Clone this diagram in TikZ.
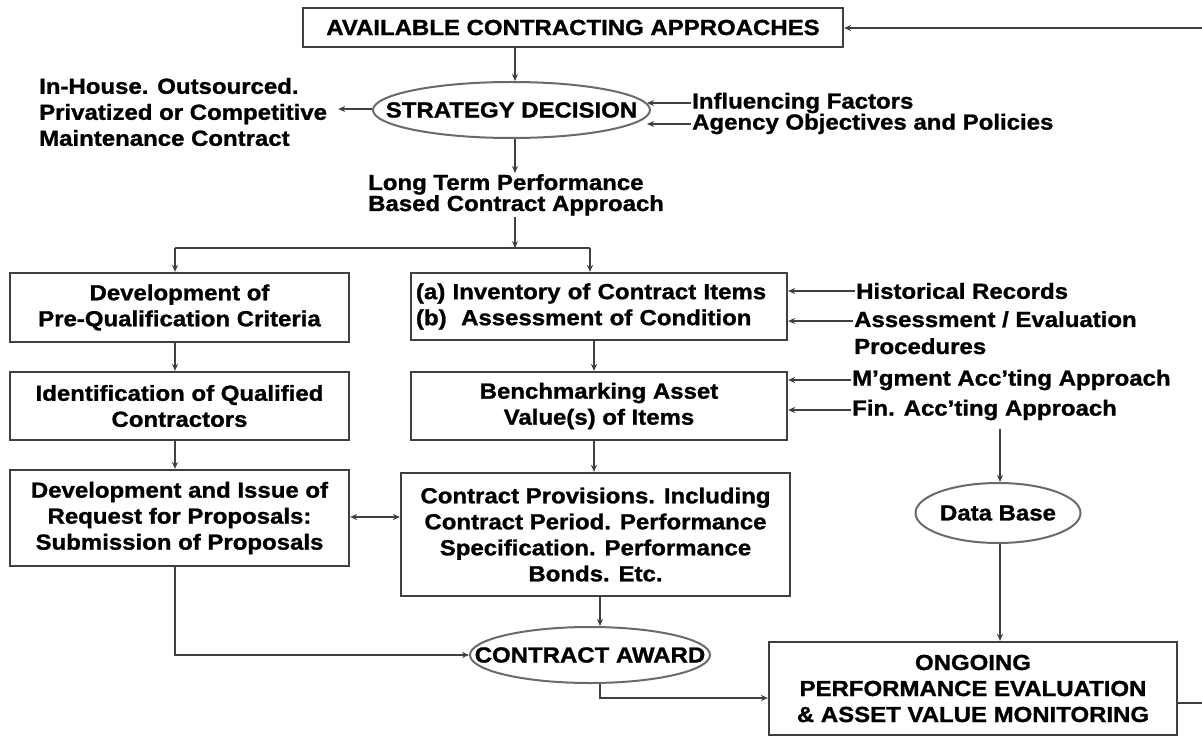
\documentclass[tikz,border=0pt]{standalone}
\usepackage{fontspec}
\setmainfont{Liberation Sans}[FakeStretch=1.1, BoldFeatures={FakeBold=1.2}]
\usetikzlibrary{arrows.meta,calc,shapes.geometric}
\definecolor{lncol}{HTML}{404040}
\definecolor{ovcol}{HTML}{6A6A6A}
\begin{document}
\begin{tikzpicture}[x=1pt,y=-1pt,
  every node/.style={font=\bfseries\fontsize{21.8}{26}\selectfont, text=black},
  box/.style={draw=lncol, line width=2.2pt, rectangle, inner sep=0pt, align=center},
  oval/.style={draw=ovcol, line width=2pt, ellipse, inner sep=0pt},
  arr/.style={draw=lncol, line width=2.2pt, -{Stealth[length=7pt,width=6pt]}},
  arrtwo/.style={draw=lncol, line width=2.2pt, {Stealth[length=7pt,width=6pt]}-{Stealth[length=7pt,width=6pt]}},
  plain/.style={draw=lncol, line width=2.2pt},
  lbl/.style={align=left, inner sep=1pt}]
\useasboundingbox (0,0) rectangle (1202,738);

% nodes
\node[box, minimum width=540pt, minimum height=39pt] (avail) at (573,27.5) {AVAILABLE CONTRACTING APPROACHES};
\node[oval, minimum width=277pt, minimum height=56pt] (strat) at (511.5,110) {\makebox[0pt]{STRATEGY DECISION}};
\node[lbl, anchor=west, font=\bfseries\fontsize{21.8}{26}\selectfont] (outs) at (38,112) {In-House. Outsourced.\\Privatized or Competitive\\Maintenance Contract};
\node[lbl, anchor=west] (infl) at (691,103) {Influencing Factors};
\node[lbl, anchor=west] (agcy) at (691,124) {Agency Objectives and Policies};
\node[lbl, anchor=north west, font=\bfseries\fontsize{21.8}{21}\selectfont] (ltp) at (367,173) {Long Term Performance\\Based Contract Approach};

\node[box, minimum width=339pt, minimum height=69pt] (b1) at (179.5,307.5) {Development of\\Pre-Qualification Criteria};
\node[box, minimum width=339pt, minimum height=68pt] (b2) at (179.5,406) {Identification of Qualified\\Contractors};
\node[box, minimum width=339pt, minimum height=96pt] (b3) at (179.5,518) {Development and Issue of\\Request for Proposals:\\Submission of Proposals};

\node[box, minimum width=376pt, minimum height=67pt, text width=366pt, align=left] (bA) at (599,306.5) {(a) Inventory of Contract Items\\(b)~~Assessment of Condition};
\node[box, minimum width=376pt, minimum height=68pt] (bB) at (599,406) {Benchmarking Asset\\Value(s) of Items};
\node[box, minimum width=389pt, minimum height=123pt] (bC) at (595.5,534.5) {Contract Provisions. Including\\Contract Period. Performance\\Specification. Performance\\Bonds. Etc.};

\node[oval, minimum width=240pt, minimum height=56pt] (award) at (590,655) {\makebox[0pt]{CONTRACT AWARD}};
\node[oval, minimum width=165pt, minimum height=60pt] (db) at (998,513) {\makebox[0pt]{Data Base}};
\node[box, minimum width=408pt, minimum height=93pt] (ongo) at (973,688.5) {ONGOING\\PERFORMANCE EVALUATION\\\& ASSET VALUE MONITORING};

\node[lbl, anchor=west] (hist) at (855,291) {Historical Records};
\node[lbl, anchor=north west, font=\bfseries\fontsize{21.8}{27}\selectfont] (asse) at (853,310) {Assessment / Evaluation\\Procedures};
\node[lbl, anchor=west] (mgmt) at (851,380) {M'gment Acc'ting Approach};
\node[lbl, anchor=west] (fin) at (851,410) {Fin. Acc'ting Approach};

% coordinates
\coordinate (jn) at (515,248);
\coordinate (jl) at (175,248);
\coordinate (jr) at (590,248);
\coordinate (mc) at (594,0);
\coordinate (ac) at (600,698);
\coordinate (dbl) at (0,517);
\coordinate (asy) at (0,321);
\coordinate (dbx) at (1000,0);
\coordinate (fb1) at (1205,703);
\coordinate (fb2) at (1205,28);
\coordinate (oy) at (0,109);

% connectors
\draw[arr] (avail.south -| jn) -- (strat.north -| jn);
\draw[arr] (strat.west |- oy) -- ($(outs.east |- oy)+(10,0)$);
\draw[arr] (infl.west) -- ($(strat.east |- infl.west)+(-4,0)$);
\draw[arr] (agcy.west) -- ($(strat.east |- agcy.west)+(-4,0)$);
\draw[arr] (strat.south -| jn) -- (ltp.north -| jn);
\draw[arr] (ltp.south -| jn) -- (jn);
\draw[plain] (jl) -- (jr);
\draw[arr] (jl) -- (jl |- b1.north);
\draw[arr] (jr) -- (jr |- bA.north);
\draw[arr] (b1.south -| jl) -- (b2.north -| jl);
\draw[arr] (b2.south -| jl) -- (b3.north -| jl);
\draw[arr] (bA.south -| mc) -- (bB.north -| mc);
\draw[arr] (bB.south -| mc) -- (bC.north -| mc);
\draw[arr] (bC.south -| ac) -- (award.north -| ac);
\draw[arrtwo] (b3.east |- dbl) -- (bC.west |- dbl);
\draw[arr] (b3.south -| jl) |- (award.west);
\draw[arr] (award.south -| ac) -- (ac) -- (ac -| ongo.west);
\draw[arr] (hist.west) -- (hist.west -| bA.east);
\draw[arr] (asse.north west |- asy) -- (bA.east |- asy);
\draw[arr] (mgmt.west) -- (mgmt.west -| bB.east);
\draw[arr] (fin.west) -- (fin.west -| bB.east);
\draw[arr] ($(fin.south -| dbx)+(0,8)$) -- (db.north -| dbx);
\draw[arr] (db.south -| dbx) -- (ongo.north -| dbx);
\draw[arr] (ongo.east |- fb1) -- (fb1) -- (fb2) -- (fb2 -| avail.east);
\end{tikzpicture}
\end{document}
